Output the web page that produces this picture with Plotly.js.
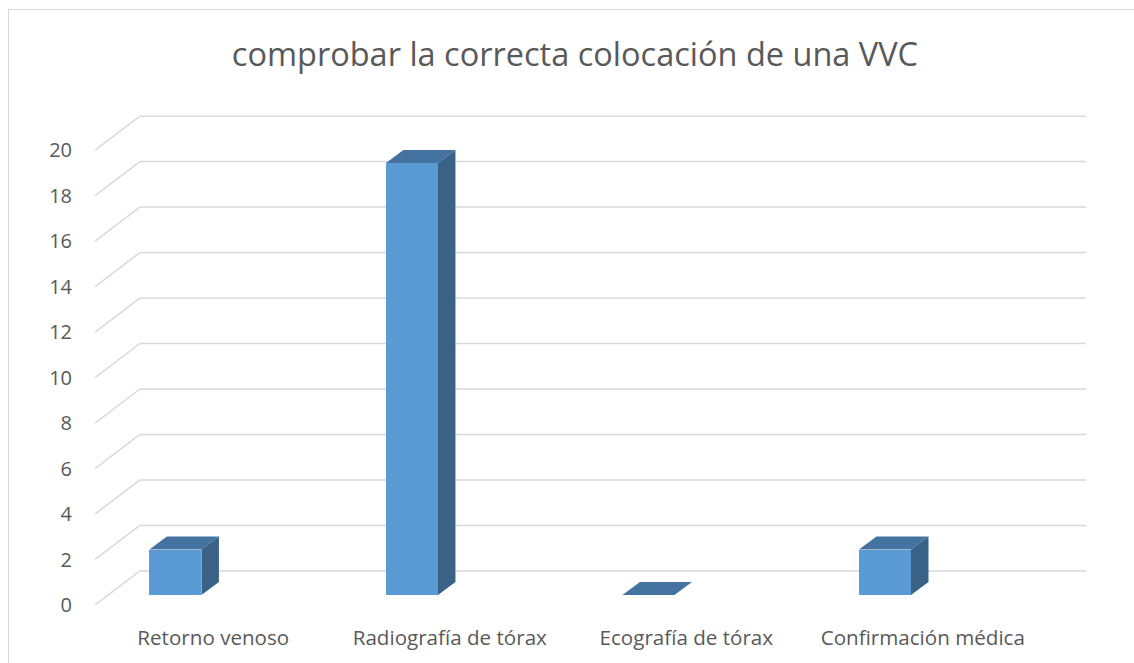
<!DOCTYPE html>
<html>
<head>
<meta charset="utf-8">
<script src="https://cdn.plot.ly/plotly-3.0.1.min.js"></script>
<style>
  body { margin: 0; padding: 0; background: #fff; }
  #wrap { position: relative; width: 1134px; height: 663px; overflow: hidden; }
  #chart { width: 1134px; height: 663px; }
  #frame { position: absolute; left: 8px; top: 9px; width: 1200px; height: 700px;
           border-left: 1px solid #D9D9D9; border-top: 1px solid #D9D9D9; pointer-events: none; }
</style>
</head>
<body>
<div id="wrap">
  <div id="chart"></div>
  <div id="frame"></div>
</div>
<script>
// ---- data ----
const categories = ["Retorno venoso", "Radiografía de tórax", "Ecografía de tórax", "Confirmación médica"];
const values = [2, 19, 0, 2];
const yTicks = [0, 2, 4, 6, 8, 10, 12, 14, 16, 18, 20];
const titleText = "comprobar la correcta colocación de una VVC";

// ---- 3D look parameters (in axis units) ----
const wallDX = 0.19, wallDY = 1.5;      // depth of back wall
const barOffset = -0.16, barWidth = 0.22, barBase = 0.44; // front face placement
const barDX = 0.074, barDY = 0.57;      // depth of each column
const xMin = -0.5, xMax = 3.69, yMax = 21.55;

const idx = categories.map((_, i) => i);

const front = {
  type: "bar", x: idx, y: values, base: values.map(() => barBase),
  width: barWidth, offset: barOffset - barWidth / 2,
  marker: { color: "#5B9BD5", line: { width: 0 } },
  hoverinfo: "skip", showlegend: false
};

const traces = [front];
values.forEach((v, i) => {
  const x0 = i + barOffset - barWidth / 2, x1 = i + barOffset + barWidth / 2;
  const b = barBase, t = barBase + v;
  // top face
  traces.push({
    type: "scatter", mode: "lines", fill: "toself",
    x: [x0, x1, x1 + barDX, x0 + barDX, x0],
    y: [t, t, t + barDY, t + barDY, t],
    line: { width: 0, color: "#4473A1" }, fillcolor: "#4473A1",
    hoverinfo: "skip", showlegend: false
  });
  // side face
  if (v > 0) traces.push({
    type: "scatter", mode: "lines", fill: "toself",
    x: [x1, x1 + barDX, x1 + barDX, x1, x1],
    y: [b, b + barDY, t + barDY, t, b],
    line: { width: 0, color: "#3A6287" }, fillcolor: "#3A6287",
    hoverinfo: "skip", showlegend: false
  });
});

const shapes = [];
yTicks.forEach(v => {
  shapes.push({ type: "line", layer: "below", xref: "x", yref: "y",
    x0: xMin + wallDX, y0: v + wallDY, x1: xMax, y1: v + wallDY,
    line: { color: "#D9D9D9", width: 1.5 } });
  shapes.push({ type: "line", layer: "below", xref: "x", yref: "y",
    x0: xMin, y0: v, x1: xMin + wallDX, y1: v + wallDY,
    line: { color: "#D9D9D9", width: 1.5 } });
});

const font = "'Open Sans', 'Noto Sans', sans-serif";
const layout = {
  width: 1134, height: 663,
  margin: { l: 95, r: 48, t: 115, b: 58 },
  paper_bgcolor: "rgba(0,0,0,0)", plot_bgcolor: "rgba(0,0,0,0)",
  title: { text: titleText, font: { family: font, size: 32.5, color: "#595959" },
           xref: "container", yref: "container", x: 0.507, y: 0.917, xanchor: "center", yanchor: "middle" },
  xaxis: { range: [xMin, xMax], tickvals: idx, ticktext: categories, showgrid: false,
           zeroline: false, showline: false, ticks: "", ticklabelstandoff: 18,
           tickfont: { family: font, size: 20.6, color: "#595959" }, fixedrange: true },
  yaxis: { range: [0, yMax], tickvals: yTicks, ticktext: yTicks.map(String), showgrid: false,
           zeroline: false, showline: false, ticks: "", ticklabelstandoff: 22,
           tickfont: { family: font, size: 20, color: "#595959" }, fixedrange: true },
  shapes: shapes,
  bargap: 0
};

Plotly.newPlot("chart", traces, layout, { displayModeBar: false, staticPlot: true });
</script>
</body>
</html>
